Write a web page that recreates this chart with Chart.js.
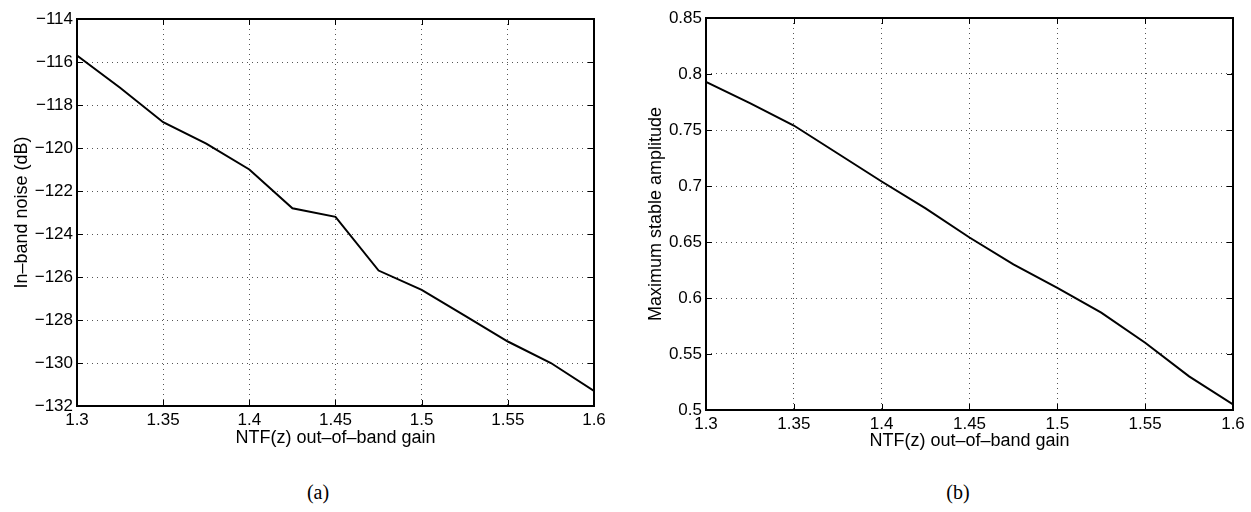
<!DOCTYPE html>
<html><head><meta charset="utf-8">
<script src="https://cdn.jsdelivr.net/npm/chart.js@4"></script>
<style>
html,body{margin:0;padding:0;background:#fff;width:1251px;height:512px;overflow:hidden;}
canvas{position:absolute;top:0;}
#cA{left:0;}
#cB{left:625px;}
.cap{position:absolute;top:480px;font-family:"Liberation Serif","DejaVu Serif",serif;font-size:20px;color:#000;transform:translateX(-50%);line-height:24px;}
</style></head><body>
<canvas id="cA" width="625" height="460"></canvas>
<canvas id="cB" width="626" height="460"></canvas>
<div class="cap" style="left:318px">(a)</div>
<div class="cap" style="left:958px">(b)</div>
<script>
// ---- data ----
const gains = [1.3, 1.325, 1.35, 1.375, 1.4, 1.425, 1.45, 1.475, 1.5, 1.525, 1.55, 1.575, 1.6];
const inBandNoise = [-115.7, -117.2, -118.8, -119.8, -121.0, -122.8, -123.2, -125.7, -126.6, -127.8, -129.0, -130.0, -131.3];
const maxStableAmp = [0.793, 0.774, 0.754, 0.729, 0.704, 0.680, 0.654, 0.630, 0.609, 0.587, 0.560, 0.530, 0.505];

const xTickValues = [1.3, 1.35, 1.4, 1.45, 1.5, 1.55, 1.6];
const xTickLabels = ['1.3', '1.35', '1.4', '1.45', '1.5', '1.55', '1.6'];
const yTickValuesA = [-132, -130, -128, -126, -124, -122, -120, -118, -116, -114];
const yTickLabelsA = ['\u2212132', '\u2212130', '\u2212128', '\u2212126', '\u2212124', '\u2212122', '\u2212120', '\u2212118', '\u2212116', '\u2212114'];
const yTickValuesB = [0.5, 0.55, 0.6, 0.65, 0.7, 0.75, 0.8, 0.85];
const yTickLabelsB = ['0.5', '0.55', '0.6', '0.65', '0.7', '0.75', '0.8', '0.85'];

const xTitle = 'NTF(z) out\u2013of\u2013band gain';
const yTitleA = 'In\u2013band noise (dB)';
const yTitleB = 'Maximum stable amplitude';

// ---- helpers ----
const FONT = '"Liberation Sans", Arial, Helvetica, sans-serif';

const framePlugin = {
  id: 'frame',
  afterDraw(chart) {
    const {ctx, chartArea: a, scales} = chart;
    ctx.save();
    ctx.strokeStyle = '#000';
    ctx.lineWidth = 1;
    const L = 6;
    ctx.beginPath();
    scales.x.ticks.forEach(t => {
      const px = Math.round(scales.x.getPixelForValue(t.value)) + 0.5;
      ctx.moveTo(px, a.bottom); ctx.lineTo(px, a.bottom - L);
      ctx.moveTo(px, a.top); ctx.lineTo(px, a.top + L);
    });
    scales.y.ticks.forEach(t => {
      const py = Math.round(scales.y.getPixelForValue(t.value)) + 0.5;
      ctx.moveTo(a.left, py); ctx.lineTo(a.left + L, py);
      ctx.moveTo(a.right, py); ctx.lineTo(a.right - L, py);
    });
    ctx.stroke();
    ctx.lineWidth = 2;
    ctx.strokeRect(a.left, a.top, a.right - a.left, a.bottom - a.top);
    ctx.restore();
  }
};

function makeChart(id, yValues, yMin, yMax, yTicks, yLabels, yTitle, geom) {
  const data = gains.map((g, i) => ({x: g, y: yValues[i]}));
  return new Chart(document.getElementById(id), {
    type: 'line',
    data: {datasets: [{data, borderColor: '#000', borderWidth: 2, pointRadius: 0, tension: 0, fill: false}]},
    options: {
      responsive: false,
      animation: false,
      layout: {padding: {top: geom.top, right: geom.right, left: 0, bottom: 0}},
      plugins: {legend: {display: false}, tooltip: {enabled: false}},
      scales: {
        x: {
          type: 'linear', min: 1.3, max: 1.6,
          afterBuildTicks: s => { s.ticks = xTickValues.map(v => ({value: v})); },
          afterFit: s => { s.height = geom.xh; },
          ticks: {autoSkip: false, maxRotation: 0, padding: geom.xpad, color: '#000',
                  font: {family: FONT, size: 17},
                  callback: (v, i) => xTickLabels[i]},
          grid: {display: true, color: '#555', lineWidth: 1, drawTicks: false},
          border: {display: false, dash: [1, 4]},
          title: {display: true, text: xTitle, color: '#000', font: {family: FONT, size: 18},
                  padding: {top: 0, bottom: geom.xtpad}}
        },
        y: {
          type: 'linear', min: yMin, max: yMax,
          afterBuildTicks: s => { s.ticks = yTicks.map(v => ({value: v})); },
          afterFit: s => { s.width = geom.yw; },
          ticks: {autoSkip: false, padding: 4, color: '#000',
                  font: {family: FONT, size: 17},
                  callback: (v, i) => yLabels[i]},
          grid: {display: true, color: '#555', lineWidth: 1, drawTicks: false},
          border: {display: false, dash: [1, 4]},
          title: {display: true, text: yTitle, color: '#000', font: {family: FONT, size: 18},
                  padding: {top: geom.ytpad, bottom: 0}}
        }
      }
    },
    plugins: [framePlugin]
  });
}

makeChart('cA', inBandNoise, -132, -114, yTickValuesA, yTickLabelsA, yTitleA,
  {top: 19, right: 31, xh: 54, yw: 77, xpad: 4, xtpad: 11, ytpad: 11});
makeChart('cB', maxStableAmp, 0.5, 0.85, yTickValuesB, yTickLabelsB, yTitleB,
  {top: 18, right: 18, xh: 50, yw: 81, xpad: 4, xtpad: 8, ytpad: 20});
</script>
</body></html>
